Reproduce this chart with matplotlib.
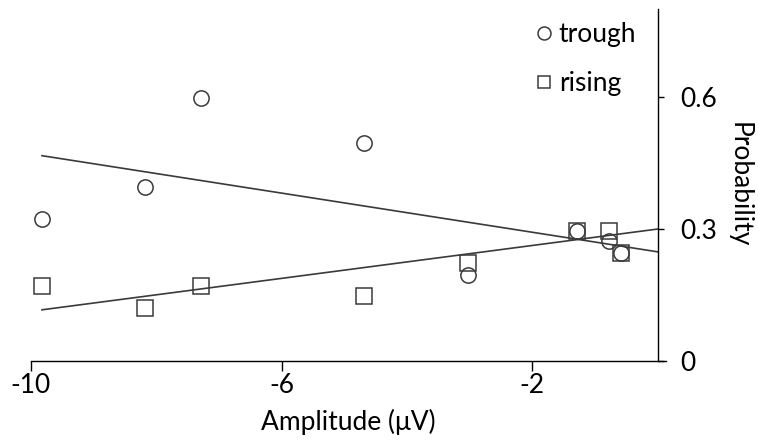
import matplotlib.pyplot as plt

plt.rcParams['font.family'] = ['Lato', 'DejaVu Sans']

# amplitude bins (uV)
amp = [-9.82, -8.17, -7.29, -4.68, -3.02, -1.29, -0.78, -0.58]
trough = [0.322, 0.396, 0.598, 0.496, 0.195, 0.296, 0.273, 0.246]
rising = [0.171, 0.121, 0.171, 0.147, 0.223, 0.296, 0.296, 0.246]

# trend lines (end points)
fit_x = [-9.82, 0.0]
trough_fit = [0.467, 0.248]
rising_fit = [0.116, 0.300]

xticks = [-10, -6, -2]
yticks = [0, 0.3, 0.6]
ytick_labels = ['0', '0.3', '0.6']

fs = 19

fig = plt.figure(figsize=(7.58, 4.41), dpi=100)
ax = fig.add_axes([0.0405, 0.182, 0.838, 0.7965])

edge = '#3a3a3a'
ax.plot(fit_x, trough_fit, color=edge, lw=1.2, zorder=1)
ax.plot(fit_x, rising_fit, color=edge, lw=1.2, zorder=1)
ax.plot(amp, rising, ls='none', marker='s', ms=11, mfc='none', mec=edge, mew=1.1,
        label='rising', zorder=2)
ax.plot(amp, trough, ls='none', marker='o', ms=11, mfc='none', mec=edge, mew=1.1,
        label='trough', zorder=3)

ax.set_xlim(-10, 0.13)
ax.set_ylim(0, 0.8)

ax.spines['left'].set_visible(False)
ax.spines['top'].set_visible(False)
ax.spines['right'].set_position(('data', 0))
for s in ('right', 'bottom'):
    ax.spines[s].set_color('black')
    ax.spines[s].set_linewidth(1.0)

ax.yaxis.tick_right()
ax.yaxis.set_label_position('right')
ax.set_xticks(xticks)
ax.set_xticklabels([str(v) for v in xticks])
ax.set_yticks(yticks)
ax.set_yticklabels(ytick_labels)
ax.tick_params(axis='x', direction='out', length=7, width=1, labelsize=fs, pad=2)
ax.tick_params(axis='y', direction='out', length=4.5, width=1, labelsize=fs, pad=12)

ax.set_xlabel('Amplitude (\u03bcV)', fontsize=fs, labelpad=8)
ax.yaxis.set_label_coords(1.115, 0.5)
ax.set_ylabel('Probability', fontsize=fs, rotation=270, va='center')

h, l = ax.get_legend_handles_labels()
leg = ax.legend([h[1], h[0]], [l[1], l[0]], loc='upper left',
                bbox_to_anchor=(0.69, 0.98), bbox_transform=fig.transFigure,
                frameon=False, fontsize=fs, handlelength=0.6, handletextpad=0.25,
                labelspacing=0.9, borderpad=0, markerscale=0.85)

fig.savefig('out.png', dpi=100)
